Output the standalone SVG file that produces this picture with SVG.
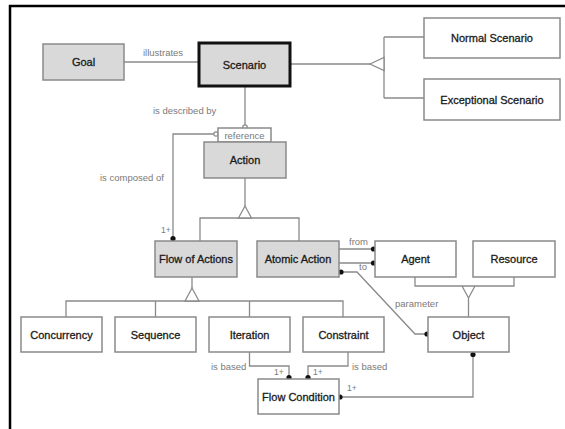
<svg xmlns="http://www.w3.org/2000/svg" width="565" height="429" viewBox="0 0 565 429">
<style>
.g{fill:#d9d9d9;stroke:#8a8a8a;stroke-width:1.5}
.w{fill:#ffffff;stroke:#8a8a8a;stroke-width:1.5}
.t{font-family:"Liberation Sans",Arial,sans-serif;font-size:11px;fill:#1a1a1a;stroke:#1a1a1a;stroke-width:0.3;text-anchor:middle}
.l{font-family:"Liberation Sans",Arial,sans-serif;font-size:9.5px;fill:#7a7a7a}
.s{font-family:"Liberation Sans",Arial,sans-serif;font-size:8.5px;fill:#7a7a7a}
.c{fill:none;stroke:#8a8a8a;stroke-width:1.3}
.tri{fill:#ffffff;stroke:#8a8a8a;stroke-width:1.3}
.d{fill:#111111}
.o{fill:#ffffff;stroke:#8a8a8a;stroke-width:1.2}
</style>
<rect width="565" height="429" fill="#ffffff"/>
<path d="M10,429 V6 H565" fill="none" stroke="#000" stroke-width="2.5"/>

<g id="connectors">
  <path class="c" d="M124,62 H199"/>
  <path class="c" d="M290,64 H370"/>
  <path class="c" d="M384,37 H424 M384,37 V98 M384,98 H424"/>
  <path class="tri" d="M370,64 L384,57.5 L384,70.5 Z"/>
  <path class="c" d="M245,86 V125"/>
  <circle class="o" cx="245" cy="127" r="2.2"/>
  <path class="c" d="M214,134 H173 V237"/>
  <circle class="o" cx="216" cy="134" r="2.2"/>
  <circle class="d" cx="173" cy="238.5" r="2.6"/>
  <path class="c" d="M245,178 V206 M200,241 V218 H299 V241"/>
  <path class="tri" d="M245,206 L238.5,218 L251.5,218 Z"/>
  <path class="c" d="M192,277 V288 M66,317 V301 H343 V317 M155.5,301 V317 M249.5,301 V317"/>
  <path class="tri" d="M192,288 L185,301 L199,301 Z"/>
  <path class="c" d="M339,249 H374 M339,263 H374"/>
  <circle class="d" cx="373.5" cy="249" r="2.6"/>
  <circle class="d" cx="373.5" cy="263" r="2.6"/>
  <path class="c" d="M341,272 H357 L415,334 H427"/>
  <circle class="d" cx="341" cy="272" r="2.6"/>
  <circle class="d" cx="427" cy="334" r="2.6"/>
  <path class="c" d="M415,277 V286 H514 V277 M462,286 L468.5,298 L475,286 M468.5,298 V317"/>
  <path class="c" d="M473,354 V397 H340"/>
  <circle class="d" cx="473" cy="354.5" r="2.6"/>
  <circle class="d" cx="340" cy="397" r="2.6"/>
  <path class="c" d="M249.5,352 V366 H289 V377 M348,352 V366 H308 V377"/>
  <circle class="d" cx="289" cy="377.5" r="2.6"/>
  <circle class="d" cx="308" cy="377.5" r="2.6"/>
  <text class="l" x="143" y="56">illustrates</text>
  <text class="l" x="153" y="114">is described by</text>
  <text class="l" x="100" y="181">is composed of</text>
  <text class="s" x="161" y="233">1+</text>
  <text class="l" x="349" y="245">from</text>
  <text class="l" x="359" y="270">to</text>
  <text class="l" x="395" y="307">parameter</text>
  <text class="l" x="211" y="370">is based</text>
  <text class="s" x="274" y="375">1+</text>
  <text class="s" x="313" y="375">1+</text>
  <text class="l" x="352" y="370">is based</text>
  <text class="s" x="347" y="391">1+</text>
</g>

<g id="goal"><rect class="g" x="43" y="44" width="81" height="36"/><text class="t" x="83.5" y="66">Goal</text></g>
<g id="scenario"><rect x="199" y="43" width="91" height="43" fill="#d9d9d9" stroke="#111" stroke-width="3"/><text class="t" x="244.5" y="68.5">Scenario</text></g>
<g id="normal-scenario"><rect class="w" x="424" y="18" width="136" height="40"/><text class="t" x="492" y="42">Normal Scenario</text></g>
<g id="exceptional-scenario"><rect class="w" x="424" y="79" width="136" height="41"/><text class="t" x="492" y="103.5">Exceptional Scenario</text></g>
<g id="reference"><rect class="w" x="218" y="128" width="53" height="14"/><text class="l" x="244.5" y="138.5" text-anchor="middle">reference</text></g>
<g id="action"><rect class="g" x="204" y="142" width="82" height="36"/><text class="t" x="245" y="164">Action</text></g>
<g id="flow-of-actions"><rect class="g" x="155" y="241" width="82" height="36"/><text class="t" x="196" y="263">Flow of Actions</text></g>
<g id="atomic-action"><rect class="g" x="257" y="241" width="82" height="36"/><text class="t" x="298" y="263">Atomic Action</text></g>
<g id="agent"><rect class="w" x="375" y="241" width="81" height="36"/><text class="t" x="415.5" y="263">Agent</text></g>
<g id="resource"><rect class="w" x="473" y="241" width="82" height="36"/><text class="t" x="514" y="263">Resource</text></g>
<g id="object"><rect class="w" x="428" y="317" width="81" height="35"/><text class="t" x="468.5" y="338.5">Object</text></g>
<g id="concurrency"><rect class="w" x="21" y="317" width="81" height="35"/><text class="t" x="61.5" y="338.5">Concurrency</text></g>
<g id="sequence"><rect class="w" x="115" y="317" width="81" height="35"/><text class="t" x="155.5" y="338.5">Sequence</text></g>
<g id="iteration"><rect class="w" x="209" y="317" width="81" height="35"/><text class="t" x="249.5" y="338.5">Iteration</text></g>
<g id="constraint"><rect class="w" x="303" y="317" width="81" height="35"/><text class="t" x="343.5" y="338.5">Constraint</text></g>
<g id="flow-condition"><rect class="w" x="258" y="379" width="81" height="35"/><text class="t" x="298.5" y="400.5">Flow Condition</text></g>
</svg>
